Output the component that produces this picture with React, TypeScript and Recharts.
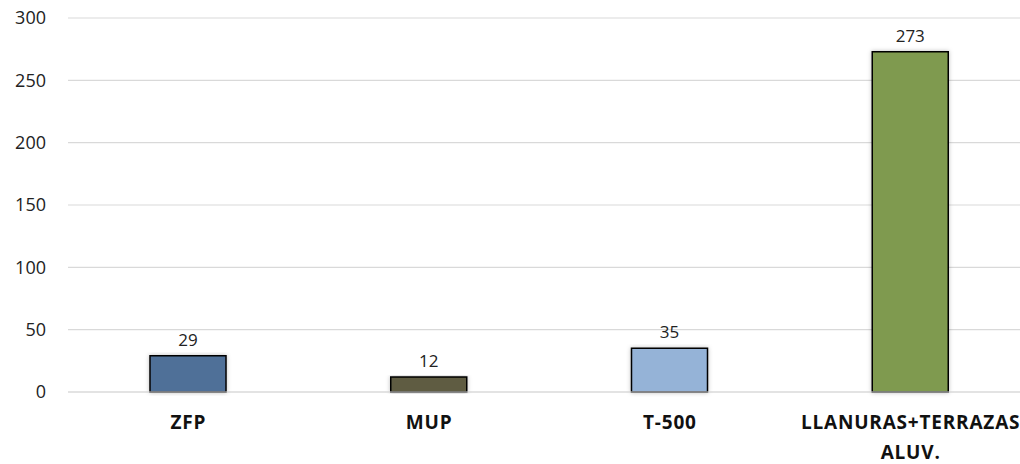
import { Bar, BarChart, CartesianGrid, Cell, LabelList, XAxis, YAxis } from "recharts";

const categories = ["ZFP", "MUP", "T-500", "LLANURAS+TERRAZAS ALUV."];
const values = [29, 12, 35, 273];
const colors = ["#4f6f98", "#5f5b43", "#95b3d7", "#7f9a50"];
const yTicks = [0, 50, 100, 150, 200, 250, 300];

const data = categories.map((name, i) => ({ name, value: values[i] }));

const FONT = "'Open Sans', 'DejaVu Sans', sans-serif";

function CategoryTick({ x, y, payload }: any) {
  const words = String(payload.value).split(" ");
  return (
    <text
      x={x}
      y={y}
      textAnchor="middle"
      fontFamily={FONT}
      fontSize={19}
      fontWeight="bold"
      letterSpacing={0.8}
      fill="#111"
    >
      {words.map((w: string, i: number) => (
        <tspan key={w} x={x} dy={i === 0 ? 29 : 30}>
          {w}
        </tspan>
      ))}
    </text>
  );
}

export default function App() {
  return (
    <div
      style={{
        position: "absolute",
        left: 0,
        top: 0,
        width: 1020,
        height: 464,
        overflow: "hidden",
        background: "#fff",
      }}
    >
      <BarChart
        width={1032}
        height={464}
        data={data}
        margin={{ top: 18, right: 1, left: 0, bottom: 0 }}
      >
        <defs>
          <filter id="barShadow" x="-10%" y="-10%" width="120%" height="120%">
            <feDropShadow dx="0" dy="0" stdDeviation="2" floodColor="#000" floodOpacity="0.25" />
          </filter>
        </defs>
        <CartesianGrid stroke="#d9d9d9" strokeWidth={1.2} vertical={false} />
        <XAxis
          dataKey="name"
          axisLine={{ stroke: "#d9d9d9", strokeWidth: 1.2 }}
          tickLine={false}
          height={72}
          interval={0}
          tick={<CategoryTick />}
        />
        <YAxis
          domain={[0, 300]}
          ticks={yTicks}
          axisLine={false}
          tickLine={false}
          width={68}
          tickMargin={16}
          tick={{ fontFamily: FONT, fontSize: 18, fill: "#222" }}
        />
        <Bar dataKey="value" barSize={76} stroke="#000" strokeWidth={1.5} isAnimationActive={false}>
          {data.map((d, i) => (
            <Cell key={d.name} fill={colors[i]} filter="url(#barShadow)" />
          ))}
          <LabelList
            dataKey="value"
            position="top"
            offset={10}
            style={{ fontFamily: FONT, fontSize: 17, fill: "#222" }}
          />
        </Bar>
      </BarChart>
    </div>
  );
}
